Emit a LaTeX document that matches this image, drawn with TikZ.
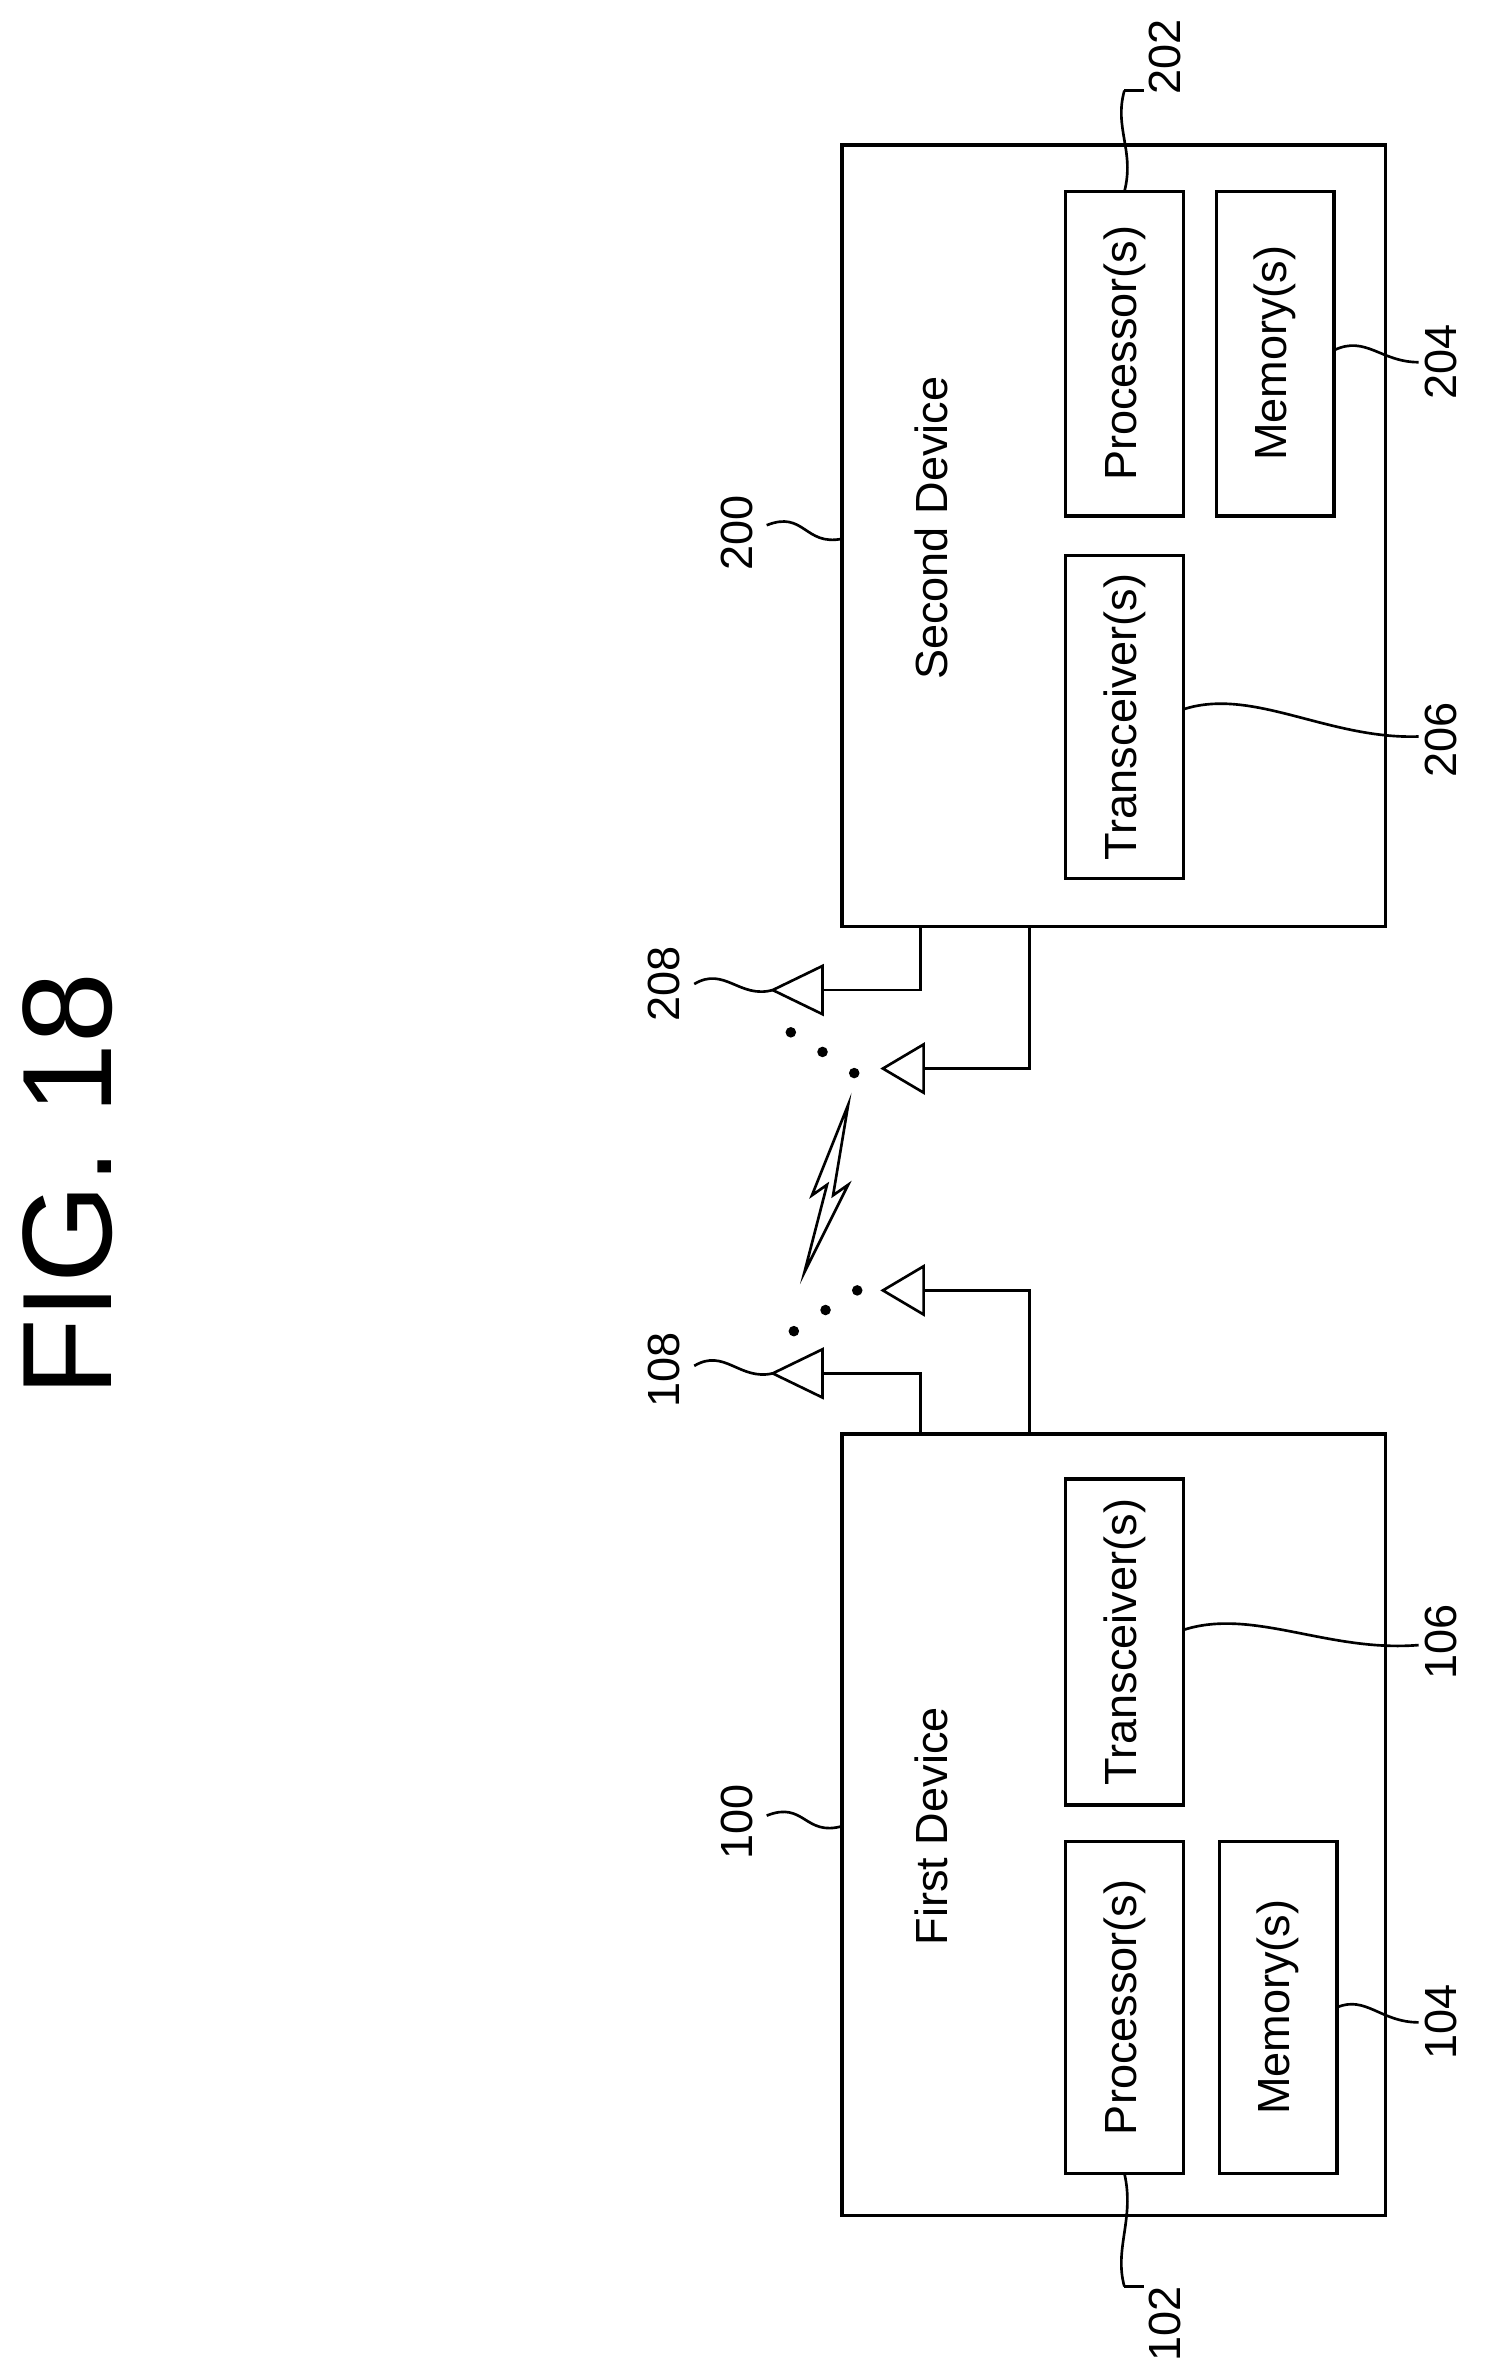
\documentclass[tikz,border=0pt]{standalone}
\usepackage{fontspec}
\setmainfont{Liberation Sans}
\begin{document}
\begin{tikzpicture}[x=0.02cm,y=-0.02cm,
  box/.style={draw,line width=1.3pt},
  lbl/.style={rotate=90,font=\fontsize{17}{20}\selectfont},
  num/.style={rotate=90,font=\fontsize{17}{20}\selectfont},
  lead/.style={line width=1pt},
  ant/.style={draw,line width=1pt}]
\useasboundingbox (0,0) rectangle (1000,1573);
\node[rotate=90,font=\fontsize{48}{54}\selectfont] (fig) at (45,785) {FIG. 18};
% second device
\draw[box] (558,96) rectangle (918,614);
\node[lbl] (sdt) at (617,350) {Second Device};
\draw[box] (706,127) rectangle (784,342); \node[lbl] (p2) at (745,234) {Processor(s)};
\draw[box] (806,127) rectangle (884,342); \node[lbl] (m2) at (845,234) {Memory(s)};
\draw[box] (706,368) rectangle (784,582); \node[lbl] (t2) at (745,475) {Transceiver(s)};
% first device
\draw[box] (558,950) rectangle (918,1468);
\node[lbl] (fdt) at (617,1210) {First Device};
\draw[box] (706,980) rectangle (784,1196); \node[lbl] (t1) at (745,1088) {Transceiver(s)};
\draw[box] (706,1220) rectangle (784,1440); \node[lbl] (p1) at (745,1330) {Processor(s)};
\draw[box] (808,1220) rectangle (886,1440); \node[lbl] (m1) at (847,1330) {Memory(s)};
% numbers and leaders
\node[num] (n200) at (488,353) {200};
\draw[lead] (508,348) .. controls (533,338) and (533,362) .. (558,357);
\node[num] (n202) at (772,38) {202};
\draw[lead] (745,60) .. controls (738,85) and (752,100) .. (745,127);
\draw[lead] (745,60) -- (758,60);
\node[num] (n204) at (955,240) {204};
\draw[lead] (884,232) .. controls (905,222) and (915,240) .. (940,240);
\node[num] (n206) at (955,490) {206};
\draw[lead] (784,470) .. controls (830,455) and (880,490) .. (940,488);
\node[num] (n100) at (488,1207) {100};
\draw[lead] (508,1203) .. controls (533,1193) and (533,1217) .. (558,1210);
\node[num] (n106) at (955,1088) {106};
\draw[lead] (784,1080) .. controls (830,1065) and (880,1095) .. (940,1090);
\node[num] (n104) at (955,1340) {104};
\draw[lead] (886,1330) .. controls (905,1322) and (915,1340) .. (940,1340);
\node[num] (n102) at (772,1540) {102};
\draw[lead] (745,1440) .. controls (752,1470) and (738,1490) .. (745,1515);
\draw[lead] (745,1515) -- (758,1515);
\node[num] (n208) at (440,652) {208};
\draw[lead] (460,652) .. controls (480,640) and (490,662) .. (512,656);
\node[num] (n108) at (440,908) {108};
\draw[lead] (460,905) .. controls (480,893) and (490,915) .. (512,910);
% antennas
\draw[ant] (512,656) -- (545,640) -- (545,672) -- cycle;
\draw[lead] (545,656) -- (610,656) -- (610,614);
\draw[ant] (585,708) -- (612,692) -- (612,724) -- cycle;
\draw[lead] (612,708) -- (682,708) -- (682,614);
\draw[ant] (512,910) -- (545,894) -- (545,926) -- cycle;
\draw[lead] (545,910) -- (610,910) -- (610,950);
\draw[ant] (585,855) -- (612,839) -- (612,871) -- cycle;
\draw[lead] (612,855) -- (682,855) -- (682,950);
\foreach \p in {(524,684),(545,697),(566,711),(526,882),(547,868),(568,855)} \fill \p circle (3.5);
% lightning
\draw[line width=1pt] (533,843) -- (548,785) -- (538,792) -- (562,732) -- (552,792) -- (562,785) -- cycle;
\end{tikzpicture}
\end{document}
